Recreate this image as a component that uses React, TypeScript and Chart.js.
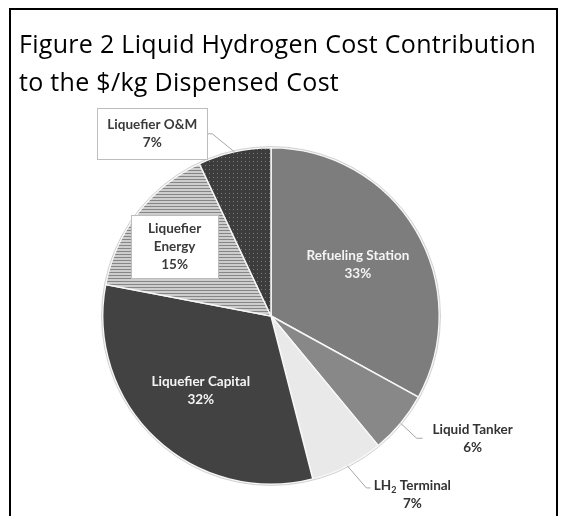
import React, { useEffect, useRef } from "react";
import { Chart, registerables } from "chart.js";

Chart.register(...registerables);

const titleLines = ["Figure 2 Liquid Hydrogen Cost Contribution", "to the $/kg Dispensed Cost"];
const categories = [
  "Refueling Station",
  "Liquid Tanker",
  "LH2 Terminal",
  "Liquefier Capital",
  "Liquefier Energy",
  "Liquefier O&M",
];
const shares = [33, 6, 7, 32, 15, 7];

function stripePattern(): CanvasPattern | string {
  const c = document.createElement("canvas");
  c.width = 4;
  c.height = 3;
  const g = c.getContext("2d");
  if (!g) return "#b5b5b5";
  g.fillStyle = "#cdcdcd";
  g.fillRect(0, 0, 4, 3);
  g.fillStyle = "#868686";
  g.fillRect(0, 2, 4, 1);
  const p = g.createPattern(c, "repeat");
  return p || "#b5b5b5";
}

function dotPattern(): CanvasPattern | string {
  const c = document.createElement("canvas");
  c.width = 4;
  c.height = 4;
  const g = c.getContext("2d");
  if (!g) return "#444";
  g.fillStyle = "#3c3c3c";
  g.fillRect(0, 0, 4, 4);
  g.fillStyle = "#7c7c7c";
  g.fillRect(1, 1, 1, 1);
  const p = g.createPattern(c, "repeat");
  return p || "#444";
}

type LabelStyle =
  | { kind: "inside"; frac: number; color: string }
  | { kind: "box"; frac: number; dx: number; dy: number; w: number; h: number }
  | { kind: "callBox"; elbow: [number, number]; center: [number, number]; w: number; h: number }
  | { kind: "callout"; elbow: [number, number]; end: [number, number]; text: [number, number] };

const labelStyles: LabelStyle[] = [
  { kind: "inside", frac: 0.6, color: "#f4f4f4" },
  { kind: "callout", elbow: [16, 15], end: [22, 15], text: [72, 15] },
  { kind: "callout", elbow: [19, 22], end: [23, 22], text: [65, 29] },
  { kind: "inside", frac: 0.61, color: "#f4f4f4" },
  { kind: "box", frac: 0.71, dx: -2, dy: 4, w: 87, h: 63 },
  { kind: "callBox", elbow: [-22, -18], center: [-82, -18], w: 110, h: 51 },
];

const FONT = "bold 13.5px Lato, 'Open Sans', sans-serif";
const SUBFONT = "bold 9px Lato, 'Open Sans', sans-serif";
const LINE_H = 18;

function drawTextLine(ctx: CanvasRenderingContext2D, text: string, cx: number, cy: number) {
  if (text.startsWith("LH2")) {
    const a = "LH";
    const b = "2";
    const rest = text.slice(3);
    ctx.font = FONT;
    const wa = ctx.measureText(a).width;
    const wr = ctx.measureText(rest).width;
    ctx.font = SUBFONT;
    const wb = ctx.measureText(b).width;
    const total = wa + wb + wr;
    let x = cx - total / 2;
    ctx.textAlign = "left";
    ctx.font = FONT;
    ctx.fillText(a, x, cy);
    x += wa;
    ctx.font = SUBFONT;
    ctx.fillText(b, x, cy + 4);
    x += wb;
    ctx.font = FONT;
    ctx.fillText(rest, x, cy);
    ctx.textAlign = "center";
  } else {
    ctx.font = FONT;
    ctx.textAlign = "center";
    ctx.fillText(text, cx, cy);
  }
}

function drawLines(ctx: CanvasRenderingContext2D, lines: string[], cx: number, cy: number, color: string) {
  ctx.fillStyle = color;
  ctx.textBaseline = "middle";
  const top = cy - ((lines.length - 1) * LINE_H) / 2;
  lines.forEach((l, i) => drawTextLine(ctx, l, cx, top + i * LINE_H));
}

function labelLines(i: number, kind: string): string[] {
  const name = categories[i];
  const pct = shares[i] + "%";
  if (kind === "box" && name === "Liquefier Energy") return ["Liquefier", "Energy", pct];
  return [name, pct];
}

const labelPlugin = {
  id: "pieLabels",
  afterDatasetsDraw(chart: any) {
    const ctx: CanvasRenderingContext2D = chart.ctx;
    const meta = chart.getDatasetMeta(0);
    ctx.save();
    const first = meta.data[0];
    if (first) {
      const p = first.getProps(["x", "y", "outerRadius"], true);
      ctx.beginPath();
      ctx.arc(p.x, p.y, p.outerRadius + 1.2, 0, Math.PI * 2);
      ctx.strokeStyle = "#c4c4c4";
      ctx.lineWidth = 0.8;
      ctx.stroke();
    }
    meta.data.forEach((arc: any, i: number) => {
      const { x, y, startAngle, endAngle, outerRadius } = arc.getProps(
        ["x", "y", "startAngle", "endAngle", "outerRadius"],
        true
      );
      const mid = (startAngle + endAngle) / 2;
      const cs = Math.cos(mid);
      const sn = Math.sin(mid);
      const st = labelStyles[i];
      const lines = labelLines(i, st.kind);
      if (st.kind === "inside") {
        drawLines(ctx, lines, x + cs * outerRadius * st.frac, y + sn * outerRadius * st.frac, st.color);
      } else if (st.kind === "box") {
        const cx = x + cs * outerRadius * st.frac + st.dx;
        const cy = y + sn * outerRadius * st.frac + st.dy;
        ctx.fillStyle = "#ffffff";
        ctx.fillRect(cx - st.w / 2, cy - st.h / 2, st.w, st.h);
        ctx.strokeStyle = "#bdbdbd";
        ctx.lineWidth = 1;
        ctx.strokeRect(Math.round(cx - st.w / 2) + 0.5, Math.round(cy - st.h / 2) + 0.5, st.w, st.h);
        drawLines(ctx, lines, cx, cy, "#3a3a3a");
      } else if (st.kind === "callBox") {
        const ax = x + cs * outerRadius;
        const ay = y + sn * outerRadius;
        const cx = ax + st.center[0];
        const cy = ay + st.center[1];
        ctx.strokeStyle = "#a6a6a6";
        ctx.lineWidth = 1;
        ctx.beginPath();
        ctx.moveTo(ax, ay);
        ctx.lineTo(ax + st.elbow[0], ay + st.elbow[1]);
        ctx.lineTo(cx + st.w / 2, cy);
        ctx.stroke();
        ctx.fillStyle = "#ffffff";
        ctx.fillRect(cx - st.w / 2, cy - st.h / 2, st.w, st.h);
        ctx.strokeStyle = "#bdbdbd";
        ctx.strokeRect(Math.round(cx - st.w / 2) + 0.5, Math.round(cy - st.h / 2) + 0.5, st.w, st.h);
        drawLines(ctx, lines, cx, cy, "#3a3a3a");
      } else {
        const ax = x + cs * outerRadius;
        const ay = y + sn * outerRadius;
        ctx.strokeStyle = "#a6a6a6";
        ctx.lineWidth = 1;
        ctx.beginPath();
        ctx.moveTo(ax, ay);
        ctx.lineTo(ax + st.elbow[0], ay + st.elbow[1]);
        ctx.lineTo(ax + st.end[0], ay + st.end[1]);
        ctx.stroke();
        drawLines(ctx, lines, ax + st.text[0], ay + st.text[1], "#333333");
      }
    });
    ctx.restore();
  },
};

export default function App() {
  const ref = useRef<HTMLCanvasElement | null>(null);
  useEffect(() => {
    if (!ref.current) return;
    const colors: any[] = ["#7d7d7d", "#888888", "#e9e9e9", "#424242", stripePattern(), dotPattern()];
    const chart = new Chart(ref.current, {
      type: "pie",
      data: {
        labels: categories,
        datasets: [
          {
            data: shares,
            backgroundColor: colors,
            borderColor: "#f7f7f7",
            borderWidth: 1.5,
          },
        ],
      },
      options: {
        responsive: false,
        animation: false,
        layout: { padding: { left: 102, right: 126, top: 147, bottom: 31 } },
        plugins: {
          legend: { display: false },
          tooltip: { enabled: false },
          title: { display: false },
        },
      },
      plugins: [labelPlugin],
    });
    return () => chart.destroy();
  }, []);

  return (
    <div
      style={{
        position: "fixed",
        left: 0,
        top: 0,
        width: 566,
        height: 516,
        overflow: "hidden",
        background: "#ffffff",
      }}
    >
      <div
        style={{
          position: "absolute",
          left: 9,
          top: 8,
          width: 545,
          height: 530,
          border: "2px solid #000",
        }}
      />
      <canvas ref={ref} width={566} height={516} style={{ position: "absolute", left: 0, top: 0 }} />
      <div
        style={{
          position: "absolute",
          left: 19,
          top: 24,
          fontFamily: "'Open Sans', Lato, sans-serif",
          fontSize: 25,
          letterSpacing: "0.3px",
          lineHeight: "38px",
          color: "#000",
          whiteSpace: "nowrap",
        }}
      >
        {titleLines.map((t, i) => (
          <div key={i}>{t}</div>
        ))}
      </div>
    </div>
  );
}
